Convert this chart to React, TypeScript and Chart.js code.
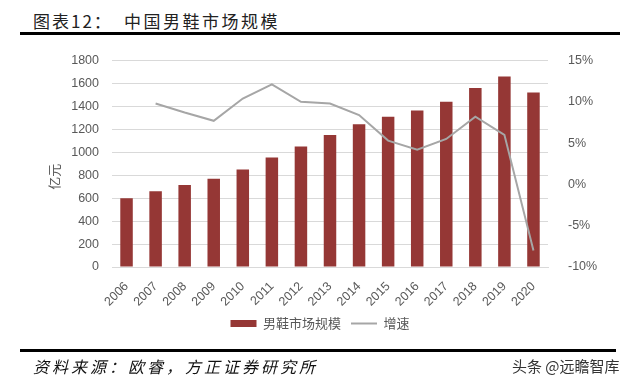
import React, { useEffect, useRef } from "react";
import { Chart, registerables } from "chart.js";

Chart.register(...registerables);

const years = ["2006", "2007", "2008", "2009", "2010", "2011", "2012", "2013", "2014", "2015", "2016", "2017", "2018", "2019", "2020"];
const marketSize = [600, 660, 715, 770, 850, 955, 1050, 1150, 1245, 1310, 1365, 1440, 1560, 1660, 1520];
const growthRate = [null, 9.8, 8.7, 7.7, 10.4, 12.1, 10.0, 9.8, 8.4, 5.3, 4.2, 5.5, 8.2, 6.0, -8.0];
const seriesNames = ["男鞋市场规模", "增速"];

const BAR_COLOR = "#953735";
const LINE_COLOR = "#A6A6A6";
const TEXT_COLOR = "#595959";
const CJK = "'Noto Sans CJK SC', 'Noto Sans', sans-serif";
const LATIN = "'Liberation Sans', Arial, sans-serif";

export default function App() {
  const ref = useRef<HTMLCanvasElement>(null);

  useEffect(() => {
    document.body.style.margin = "0";
    const canvas = ref.current!;
    const chart = new Chart(canvas, {
      data: {
        labels: years,
        datasets: [
          {
            type: "bar",
            label: seriesNames[0],
            data: marketSize,
            backgroundColor: BAR_COLOR,
            yAxisID: "y",
            barPercentage: 0.43,
            categoryPercentage: 1,
            order: 2,
          },
          {
            type: "line",
            label: seriesNames[1],
            data: growthRate,
            borderColor: LINE_COLOR,
            backgroundColor: LINE_COLOR,
            borderWidth: 2,
            pointRadius: 0,
            tension: 0,
            yAxisID: "y1",
            order: 1,
          },
        ],
      } as any,
      options: {
        responsive: false,
        animation: false,
        layout: { padding: { left: 0, right: 0, top: 18, bottom: 10 } },
        plugins: {
          tooltip: { enabled: false },
          legend: {
            position: "bottom",
            labels: {
              usePointStyle: true,
              pointStyleWidth: 26,
              boxHeight: 7,
              padding: 10,
              color: TEXT_COLOR,
              font: { family: CJK, size: 13 },
              sort: (a: any, b: any) => a.datasetIndex - b.datasetIndex,
              generateLabels: (c: any) => {
                const items = (Chart.defaults.plugins.legend.labels as any).generateLabels(c);
                items.forEach((it: any) => {
                  if (it.datasetIndex === 0) {
                    it.pointStyle = "rect";
                    it.fillStyle = BAR_COLOR;
                    it.strokeStyle = BAR_COLOR;
                    it.lineWidth = 0;
                  } else {
                    it.pointStyle = "line";
                    it.strokeStyle = LINE_COLOR;
                    it.lineWidth = 2;
                  }
                });
                return items;
              },
            },
          },
        },
        scales: {
          x: {
            grid: { display: false },
            border: { display: true, color: "#D9D9D9" },
            ticks: {
              color: TEXT_COLOR,
              font: { family: LATIN, size: 12.5 },
              minRotation: 45,
              maxRotation: 45,
              autoSkip: false,
              padding: 4,
            },
            afterFit: (s: any) => {
              s.height = 40;
            },
          },
          y: {
            position: "left",
            min: 0,
            max: 1800,
            ticks: {
              stepSize: 200,
              color: TEXT_COLOR,
              font: { family: LATIN, size: 12.5 },
              padding: 13,
              callback: (v: any) => String(v),
            },
            grid: { color: "#D9D9D9", lineWidth: 1, drawTicks: false },
            border: { display: false },
            title: {
              display: true,
              text: "亿元\u3000\u3000",
              color: TEXT_COLOR,
              font: { family: CJK, size: 13 },
              padding: { top: 46, bottom: 0 },
            },
            afterFit: (s: any) => {
              s.width = 112;
            },
          },
          y1: {
            position: "right",
            min: -10,
            max: 15,
            ticks: {
              stepSize: 5,
              color: TEXT_COLOR,
              font: { family: LATIN, size: 12.5 },
              padding: 12,
              callback: (v: any) => `${v}%`,
            },
            grid: { display: false, drawOnChartArea: false },
            border: { display: false },
            afterFit: (s: any) => {
              s.width = 92;
            },
          },
        },
      } as any,
    });
    return () => chart.destroy();
  }, []);

  return (
    <div style={{ position: "fixed", left: 0, top: 0, width: 640, height: 387, background: "#fff", overflow: "hidden" }}>
      <div style={{ position: "absolute", left: 33, top: 8, fontFamily: CJK, fontSize: 17, letterSpacing: "2px", color: "#222", whiteSpace: "nowrap" }}>
        图表12：
      </div>
      <div style={{ position: "absolute", left: 124, top: 8, fontFamily: CJK, fontSize: 17, letterSpacing: "2.5px", color: "#222", whiteSpace: "nowrap" }}>
        中国男鞋市场规模
      </div>
      <div style={{ position: "absolute", left: 20, top: 32, width: 600, height: 3, background: "#000" }} />
      <canvas ref={ref} width={640} height={310} style={{ position: "absolute", left: 0, top: 40, width: 640, height: 310 }} />
      <div style={{ position: "absolute", left: 20, top: 349, width: 596, height: 3, background: "#000" }} />
      <div style={{ position: "absolute", left: 33, top: 354, fontFamily: CJK, fontSize: 16, fontStyle: "italic", letterSpacing: "3px", color: "#111", whiteSpace: "nowrap" }}>
        资料来源：欧睿，方正证券研究所
      </div>
      <div style={{ position: "absolute", left: 512, top: 355, fontFamily: CJK, fontSize: 15, color: "#333", whiteSpace: "nowrap" }}>
        头条 @远瞻智库
      </div>
    </div>
  );
}
